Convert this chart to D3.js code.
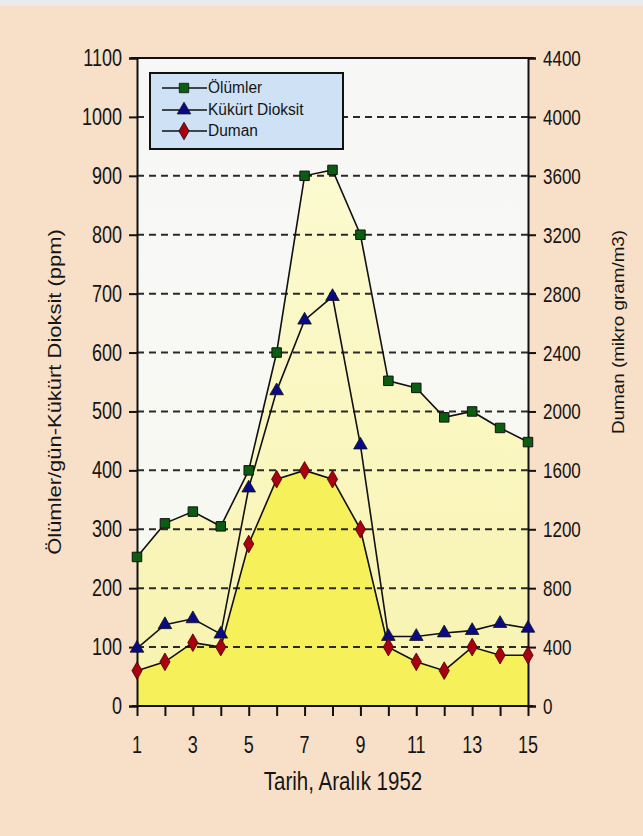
<!DOCTYPE html>
<html><head><meta charset="utf-8">
<script src="https://cdn.jsdelivr.net/npm/d3@7"></script>
<style>
html,body{margin:0;padding:0;background:#f8dfc7;}
svg{display:block;font-family:"Liberation Sans",Arial,sans-serif;}
</style></head><body>
<svg id="c" width="643" height="836"></svg>
<script>
const days = [1,2,3,4,5,6,7,8,9,10,11,12,13,14,15];
const olumler = [253,310,330,305,400,600,900,910,800,552,540,490,500,472,448];
const kukurt = [98,138,148,122,370,535,655,695,443,118,118,124,128,140,132];
const duman = [240,300,430,400,1100,1540,1600,1540,1200,400,300,240,400,345,345];
const leftTicks = [0,100,200,300,400,500,600,700,800,900,1000,1100];
const rightTicks = [0,400,800,1200,1600,2000,2400,2800,3200,3600,4000,4400];
const xTickLabels = [1,3,5,7,9,11,13,15];
const seriesNames = ["Ölümler","Kükürt Dioksit","Duman"];

const svg = d3.select("#c");
svg.append("rect").attr("x",0).attr("y",0).attr("width",643).attr("height",6).attr("fill","#ebebeb");

const L=137, R=528, T=58, B=706;
const x = d3.scaleLinear().domain([1,15]).range([L,R]);
const yL = d3.scaleLinear().domain([0,1100]).range([B,T]);
const yR = d3.scaleLinear().domain([0,4400]).range([B,T]);

const defs = svg.append("defs");
const g1 = defs.append("linearGradient").attr("id","gOl").attr("x1",0).attr("y1",0).attr("x2",0).attr("y2",1);
g1.append("stop").attr("offset","0%").attr("stop-color","#fcfad0");
g1.append("stop").attr("offset","100%").attr("stop-color","#f8f3b0");
const g2 = defs.append("linearGradient").attr("id","gBg").attr("x1",0).attr("y1",0).attr("x2",0).attr("y2",1);
g2.append("stop").attr("offset","0%").attr("stop-color","#f7f7f7");
g2.append("stop").attr("offset","100%").attr("stop-color","#f9f9f1");

svg.append("rect").attr("x",L).attr("y",T).attr("width",R-L).attr("height",B-T).attr("fill","url(#gBg)");

const areaL = d3.area().x((d,i)=>x(days[i])).y0(B).y1(d=>yL(d));
const areaR = d3.area().x((d,i)=>x(days[i])).y0(B).y1(d=>yR(d));
svg.append("path").datum(olumler).attr("d",areaL).attr("fill","url(#gOl)");
svg.append("path").datum(duman).attr("d",areaR).attr("fill","#f6f05a");

// gridlines
svg.append("g").selectAll("line").data(leftTicks.filter(v=>v>0 && v<1100)).join("line")
  .attr("x1",L).attr("x2",R).attr("y1",d=>yL(d)).attr("y2",d=>yL(d))
  .attr("stroke","#2a2a2a").attr("stroke-width",2).attr("stroke-dasharray","7,5");

// axes (lines + ticks)
const gl = svg.append("g").attr("transform",`translate(${L},0)`).call(d3.axisLeft(yL).tickValues(leftTicks).tickSize(8).tickFormat(""));
const gr = svg.append("g").attr("transform",`translate(${R},0)`).call(d3.axisRight(yR).tickValues(rightTicks).tickSize(8).tickFormat(""));
const gb = svg.append("g").attr("transform",`translate(0,${B})`).call(d3.axisBottom(x).tickValues(days).tickSize(10).tickFormat(""));
[gl,gr,gb].forEach(g=>{
  g.select(".domain").attr("stroke","#111").attr("stroke-width",2);
  g.selectAll(".tick line").attr("stroke","#111").attr("stroke-width",2);
});
gb.select(".domain").attr("d",`M${L-5},0H${R+5}`);
svg.append("line").attr("x1",L-6).attr("x2",R+6).attr("y1",T).attr("y2",T).attr("stroke","#111").attr("stroke-width",2);

// stretched text helper
const SY = 1.28;
function stext(parent, tx, ty, str, size, anchor, sy, rot){
  const g = parent.append("g").attr("transform", rot ? `translate(${tx},${ty}) rotate(-90) scale(${sy},1)` : `translate(${tx},${ty}) scale(1,${sy})`);
  g.append("text").attr("x",0).attr("y",0).attr("text-anchor",anchor).attr("font-size",size).attr("fill","#151515").text(str);
  return g;
}
const tl = svg.append("g");
leftTicks.forEach(v=>stext(tl, 122, yL(v)+8, String(v), 18, "end", SY));
rightTicks.forEach(v=>stext(tl, 543, yR(v)+8, String(v), 17, "start", SY));
xTickLabels.forEach(v=>stext(tl, x(v), 753, String(v), 18, "middle", SY));

// lines + markers
const lineL = d3.line().x((d,i)=>x(days[i])).y(d=>yL(d));
const lineR = d3.line().x((d,i)=>x(days[i])).y(d=>yR(d));
svg.append("path").datum(olumler).attr("d",lineL).attr("fill","none").attr("stroke","#111").attr("stroke-width",1.6);
svg.append("path").datum(kukurt).attr("d",lineL).attr("fill","none").attr("stroke","#111").attr("stroke-width",1.6);
svg.append("path").datum(duman).attr("d",lineR).attr("fill","none").attr("stroke","#111").attr("stroke-width",1.6);

const sq = d3.symbol().type(d3.symbolSquare).size(90);
const tri = d3.symbol().type(d3.symbolTriangle).size(80);
const dia = d3.symbol().type(d3.symbolDiamond).size(90);
svg.append("g").selectAll("path").data(olumler).join("path")
  .attr("transform",(d,i)=>`translate(${x(days[i])},${yL(d)})`).attr("d",sq)
  .attr("fill","#0b5d12").attr("stroke","#111").attr("stroke-width",1);
svg.append("g").selectAll("path").data(kukurt).join("path")
  .attr("transform",(d,i)=>`translate(${x(days[i])},${yL(d)})`).attr("d",tri)
  .attr("fill","#0a0a85").attr("stroke","#111").attr("stroke-width",0.8);
svg.append("g").selectAll("path").data(duman).join("path")
  .attr("transform",(d,i)=>`translate(${x(days[i])},${yR(d)})`).attr("d",dia)
  .attr("fill","#a80010").attr("stroke","#400").attr("stroke-width",0.8);

// legend
const lg = svg.append("g");
lg.append("rect").attr("x",150).attr("y",73).attr("width",193).attr("height",76)
  .attr("fill","#cfe2f5").attr("stroke","#111").attr("stroke-width",2);
const legY = [88,110,131];
const markers = [sq,tri,dia];
const fills = ["#0b5d12","#0a0a85","#a80010"];
seriesNames.forEach((n,i)=>{
  lg.append("line").attr("x1",162).attr("x2",207).attr("y1",legY[i]).attr("y2",legY[i]).attr("stroke","#111").attr("stroke-width",1.6);
  lg.append("path").attr("transform",`translate(184,${legY[i]})`).attr("d",markers[i]).attr("fill",fills[i]).attr("stroke","#111").attr("stroke-width",0.8);
  stext(lg, 208, legY[i]+5, n, 15.5, "start", 1.1);
});

// axis titles
stext(svg, 343, 790, "Tarih, Aralık 1952", 20.5, "middle", 1.22);
stext(svg, 61, 392, "Ölümler/gün-Kükürt Dioksit (ppm)", 18, "middle", 1.22, true);
stext(svg, 624, 332, "Duman (mikro gram/m3)", 17, "middle", 1.11, true);
</script>
</body></html>
